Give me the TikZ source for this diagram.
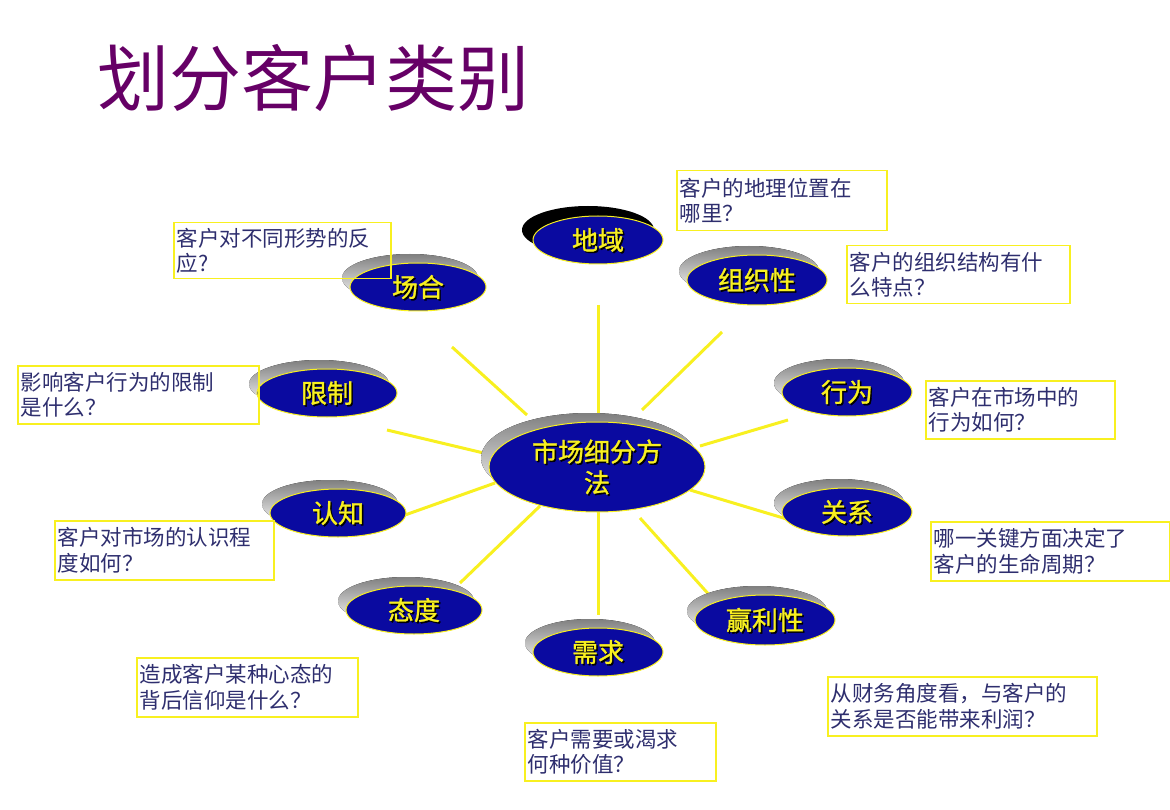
\documentclass[tikz,border=0pt]{standalone}
\usepackage{fontspec}
\newfontfamily\cjk{Noto Sans CJK SC}
\newfontfamily\cjkb[FakeBold=1.2]{Noto Sans CJK SC}
\definecolor{navy}{HTML}{0A0AA0}
\definecolor{shade}{HTML}{B8C0F0}
\definecolor{ylw}{HTML}{F8F020}
\definecolor{txt}{HTML}{2E2E6E}
\definecolor{ttl}{HTML}{660066}
\tikzset{
 spoke/.style={ylw,line width=3pt},
 note/.style={draw=ylw,line width=1.5pt,align=left,anchor=north west,inner xsep=3pt,inner ysep=2pt,text=txt,font=\cjk\fontsize{21.5}{25.5}\selectfont},
 elab/.style={text=ylw,font=\cjkb\fontsize{26}{31}\selectfont,align=center}
}
\newcommand{\blob}[6]{% name,x,y,rx,ry,text
 \fill[shade] (#2-8,#3-9) ellipse [x radius=#4,y radius=#5];
 \fill[navy,draw=ylw,line width=1pt] (#2,#3) ellipse [x radius=#4,y radius=#5];
 \node[elab,text=black] at (#2+1.5,#3+1.5) {#6};
 \node[elab] (#1) at (#2,#3) {#6};}
\begin{document}
\begin{tikzpicture}[x=1pt,y=-1pt]
\useasboundingbox (0,0) rectangle (1170,810);
\node[anchor=west,text=ttl,font=\cjk\fontsize{72}{78}\selectfont] (title) at (94,78) {划分客户类别};
% spokes
\coordinate (s1a) at (598,305); \coordinate (s1b) at (598,415);
\coordinate (s2a) at (722,332); \coordinate (s2b) at (642,410);
\coordinate (s3a) at (452,347); \coordinate (s3b) at (527,415);
\coordinate (s4a) at (788,420); \coordinate (s4b) at (700,446);
\coordinate (s5a) at (387,430); \coordinate (s5b) at (492,455);
\coordinate (s6a) at (405,515); \coordinate (s6b) at (495,483);
\coordinate (s7a) at (690,490); \coordinate (s7b) at (790,520);
\coordinate (s8a) at (460,583); \coordinate (s8b) at (540,506);
\coordinate (s9a) at (598,512); \coordinate (s9b) at (598,615);
\coordinate (s10a) at (640,518); \coordinate (s10b) at (712,598);
\foreach \i in {1,...,10} \draw[spoke] (s\i a) -- (s\i b);
% ellipses
\fill[black] (588,230) ellipse [x radius=66,y radius=24];
\fill[navy,draw=ylw,line width=1pt] (598,240) ellipse [x radius=65,y radius=24];
\node[elab,text=black] at (599.5,241.5) {地域};
\node[elab] (dy) at (598,240) {地域};
\blob{ch}{418}{287}{68}{24}{场合}
\blob{zz}{757}{280}{70}{25}{组织性}
\blob{xz}{327}{393}{70}{24}{限制}
\blob{xw}{847}{392}{65}{24}{行为}
\blob{cen}{597}{467}{108}{45}{市场细分方\\法}
\blob{rz}{338}{513}{68}{24}{认知}
\blob{gx}{847}{512}{65}{24}{关系}
\blob{td}{414}{610}{68}{24}{态度}
\blob{yl}{765}{620}{70}{25}{赢利性}
\blob{xq}{598}{652}{65}{24}{需求}
% notes
\node[note,text width=204,minimum height=60] (n1) at (676,170) {客户的地理位置在\\哪里？};
\node[note,text width=217,minimum height=58] (n2) at (846,245) {客户的组织结构有什\\么特点？};
\node[note,text width=211,minimum height=56] (n3) at (173,222) {客户对不同形势的反\\应?};
\node[note,text width=235,minimum height=58] (n4) at (17,365) {影响客户行为的限制\\是什么？};
\node[note,text width=183,minimum height=58] (n5) at (925,380) {客户在市场中的\\行为如何？};
\node[note,text width=233,minimum height=59] (n6) at (930,521) {哪一关键方面决定了\\客户的生命周期？};
\node[note,text width=213,minimum height=59] (n7) at (54,520) {客户对市场的认识程\\度如何？};
\node[note,text width=215,minimum height=59] (n8) at (136,657) {造成客户某种心态的\\背后信仰是什么？};
\node[note,text width=263,minimum height=59] (n9) at (827,676) {从财务角度看，与客户的\\关系是否能带来利润？};
\node[note,text width=185,minimum height=58] (n10) at (524,722) {客户需要或渴求\\何种价值？};
\end{tikzpicture}
\end{document}
